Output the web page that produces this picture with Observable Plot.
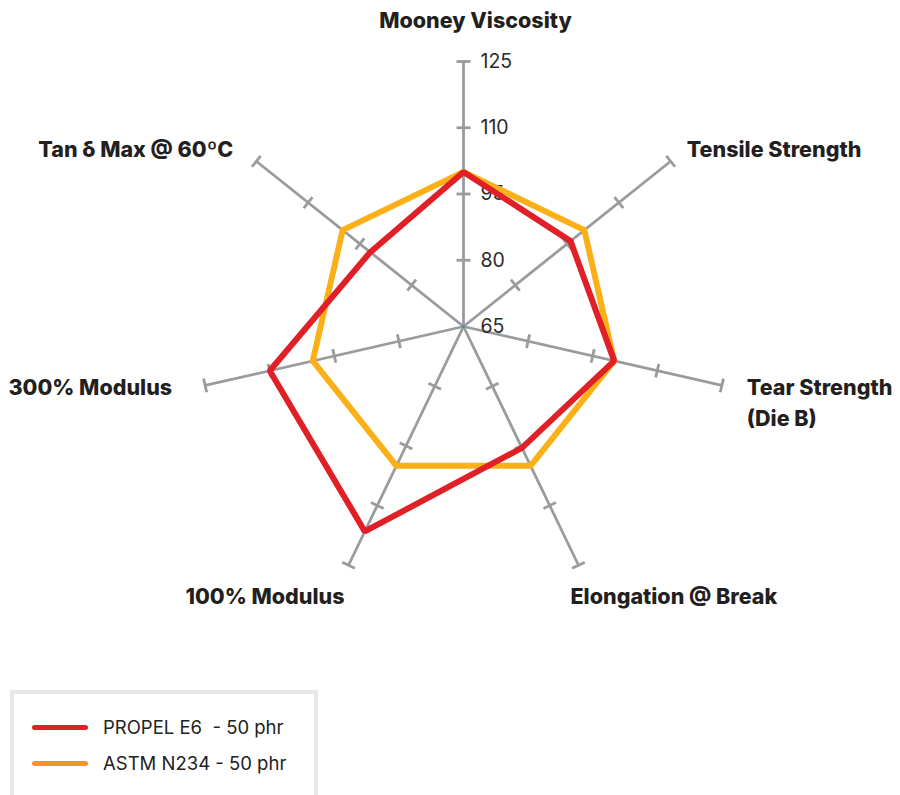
<!DOCTYPE html>
<html><head><meta charset="utf-8">
<script src="https://cdn.jsdelivr.net/npm/d3@7"></script>
<script src="https://cdn.jsdelivr.net/npm/@observablehq/plot@0.6"></script>
<style>
body{margin:0;background:#fff;font-family:Inter,"Open Sans",sans-serif;}
#wrap{position:relative;width:900px;height:795px;overflow:hidden;}
#chart svg{display:block;}
#legend{position:absolute;left:10px;top:690px;width:308px;height:140px;box-sizing:border-box;border:4px solid #e8e8e8;background:#fff;}
.item{position:absolute;left:18px;display:flex;align-items:center;font-size:18.5px;color:#222;white-space:pre;}
.sw{display:inline-block;width:56px;height:5px;border-radius:3px;margin-right:15px;}
</style></head>
<body>
<div id="wrap"><div id="chart"></div><div id="legend"></div></div>
<script>
const categories = ["Mooney Viscosity","Tensile Strength","Tear Strength\n(Die B)","Elongation @ Break","100% Modulus","300% Modulus","Tan δ Max @ 60ºC"];
const propelE6 = [100, 96, 100, 95.5, 116.5, 110, 92];
const astmN234 = [100, 100, 100, 100, 100, 100, 100];
const seriesNames = ["PROPEL E6  - 50 phr", "ASTM N234 - 50 phr"];
const tickValues = [65, 80, 95, 110, 125];

// styling / layout
const colors = {red:"#e01f26", orange:"#fcb017", legendOrange:"#f7961f", axis:"#9b9b9d"};
const W = 900, H = 680, cx = 463, cy = 326, R = 265;
const minV = tickValues[0], maxV = tickValues[tickValues.length-1];
const k = R / (maxV - minV);
const n = categories.length;
const ang = i => i * 2 * Math.PI / n;
const pt = (i, v) => { const r = v - minV; return [r * Math.sin(ang(i)), r * Math.cos(ang(i))]; };

// label offsets in pixels relative to axis ends
const labelLayout = [
  {dx: 12, dy: -43, anchor: "middle"},
  {dx: 16, dy: -14, anchor: "start"},
  {dx: 25, dy: 15, anchor: "start"},
  {dx: -8, dy: 29, anchor: "start"},
  {dx: -4, dy: 29, anchor: "end"},
  {dx: -33, dy: 0, anchor: "end"},
  {dx: -23, dy: -14, anchor: "end"}
];

const axes = categories.map((c, i) => { const [x, y] = pt(i, maxV); return {c, x, y}; });
const ticks = [];
const h = 7 / k;
categories.forEach((c, i) => {
  tickValues.slice(1).forEach(v => {
    const [x, y] = pt(i, v);
    const px = Math.cos(ang(i)), py = -Math.sin(ang(i));
    ticks.push({x1: x - px*h, y1: y - py*h, x2: x + px*h, y2: y + py*h});
  });
});
const tickLabels = tickValues.map(v => { const [x, y] = pt(0, v); return {x, y, t: String(v)}; });
const rows = [];
[[seriesNames[1], astmN234], [seriesNames[0], propelE6]].forEach(([s, vals]) => {
  vals.forEach((v, i) => { const [x, y] = pt(i, v); rows.push({s, x, y}); });
});
const labels = categories.map((c, i) => {
  const [x, y] = pt(i, maxV);
  const L = labelLayout[i];
  return {c, x: x + L.dx / k, y: y - L.dy / k, anchor: L.anchor};
});

const textMark = a => Plot.text(labels.filter(d => d.anchor === a), {
  x: "x", y: "y", text: "c", textAnchor: a, fontSize: 21.5, fontWeight: 800,
  fill: "#231f20", lineHeight: 1.45, fontFamily: "Inter, sans-serif"
});

const chart = Plot.plot({
  width: W, height: H, margin: 0,
  x: {domain: [-cx / k, (W - cx) / k], axis: null},
  y: {domain: [-(H - cy) / k, cy / k], axis: null},
  style: {background: "transparent"},
  marks: [
    Plot.link(axes, {x1: 0, y1: 0, x2: "x", y2: "y", stroke: colors.axis, strokeWidth: 2.8}),
    Plot.link(ticks, {x1: "x1", y1: "y1", x2: "x2", y2: "y2", stroke: colors.axis, strokeWidth: 2.8}),
    Plot.text(tickLabels, {x: "x", y: "y", text: "t", dx: 17, textAnchor: "start", fontSize: 19.5, fill: "#2b2b2b", fontFamily: "Inter, sans-serif"}),
    Plot.line(rows, {x: "x", y: "y", z: "s", stroke: d => d.s === seriesNames[0] ? colors.red : colors.orange,
      curve: "linear-closed", strokeWidth: 6, strokeLinejoin: "miter"}),
    Plot.dot([{x: 0, y: 0}], {x: "x", y: "y", r: 1.5, fill: "#4f8aa6"}),
    textMark("middle"), textMark("start"), textMark("end")
  ]
});
document.getElementById("chart").appendChild(chart);

const legend = document.getElementById("legend");
[[seriesNames[0], colors.red, 22], [seriesNames[1], colors.legendOrange, 58]].forEach(([name, col, top]) => {
  const d = document.createElement("div");
  d.className = "item";
  d.style.top = top + "px";
  d.innerHTML = `<span class="sw" style="background:${col}"></span><span>${name}</span>`;
  legend.appendChild(d);
});
</script>
</body></html>
